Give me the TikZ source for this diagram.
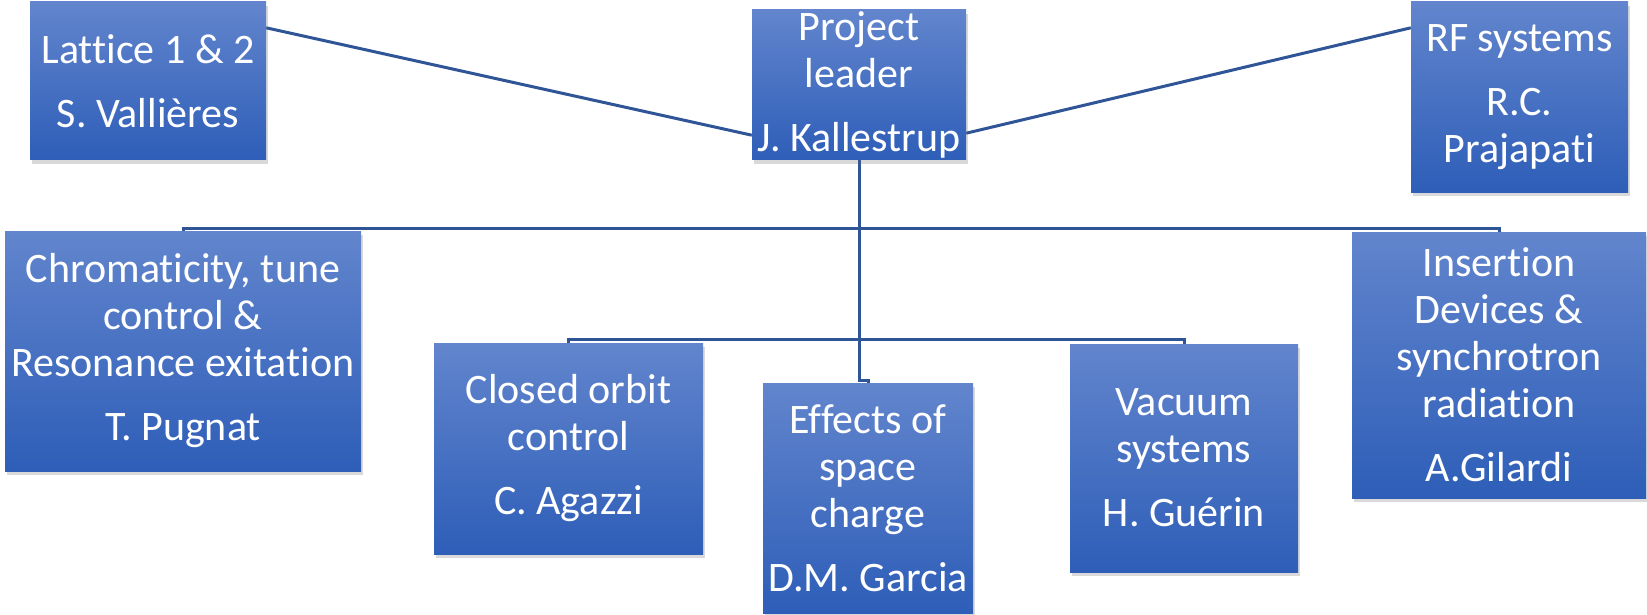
\documentclass[tikz,border=0pt]{standalone}
\usepackage{fontspec}
\setmainfont{Carlito}[Ligatures=NoCommon]
\usetikzlibrary{shadows,backgrounds,calc}
\definecolor{boxtop}{RGB}{98,133,205}
\definecolor{boxbot}{RGB}{46,94,184}
\definecolor{linecol}{RGB}{47,85,151}
\begin{document}
\begin{tikzpicture}[x=1pt,y=-1pt,
  orgbox/.style={rectangle, top color=boxtop, bottom color=boxbot, draw=none,
    text=white, align=center, font=\fontsize{42}{47}\selectfont, inner sep=0pt,
    drop shadow={shadow xshift=2pt, shadow yshift=-4pt, opacity=0.25, fill=black!60}},
  conn/.style={draw=linecol, line width=3pt}]
\useasboundingbox (0,0) rectangle (1647,615);

\node[orgbox, minimum width=236pt, minimum height=158pt] (lat) at (148,81)
  {Lattice 1 \& 2\\[17pt]S. Vallières};
\node[orgbox, minimum width=214pt, minimum height=150pt] (pl) at (859,85)
  {Project\\leader\\[17pt]J. Kallestrup};
\node[orgbox, minimum width=217pt, minimum height=190pt] (rf) at (1519.5,97)
  {RF systems\\[17pt]R.C.\\Prajapati};
\node[orgbox, minimum width=356pt, minimum height=240pt] (chr) at (183,351)
  {Chromaticity, tune\\control \&\\Resonance exitation\\[17pt]T. Pugnat};
\node[orgbox, minimum width=269pt, minimum height=211pt] (cor) at (568.5,448.5)
  {Closed orbit\\control\\[17pt]C. Agazzi};
\node[orgbox, minimum width=210pt, minimum height=230pt] (eff) at (868,498)
  {Effects of\\space\\charge\\[17pt]D.M. Garcia};
\node[orgbox, minimum width=228pt, minimum height=228pt] (vac) at (1184,458)
  {Vacuum\\systems\\[17pt]H. Guérin};
\node[orgbox, minimum width=294pt, minimum height=266pt] (ins) at (1499,365)
  {Insertion\\Devices \&\\synchrotron\\radiation\\[17pt]A.Gilardi};

\coordinate (bus1) at (859,228);
\coordinate (bus2) at (859,339);

\begin{scope}[on background layer]
\draw[conn] ([yshift=-26pt]lat.north east) -- ([yshift=25pt]pl.south west);
\draw[conn] ([yshift=27pt]pl.south east) -- ([yshift=-26pt]rf.north west);
\draw[conn] (pl.south) -- ++(0,220) -| (eff.north);
\draw[conn] (chr.north) -- (chr.north |- bus1) -- (ins.north |- bus1) -- (ins.north);
\draw[conn] (cor.north) -- (cor.north |- bus2) -- (vac.north |- bus2) -- (vac.north);
\end{scope}
\end{tikzpicture}
\end{document}
